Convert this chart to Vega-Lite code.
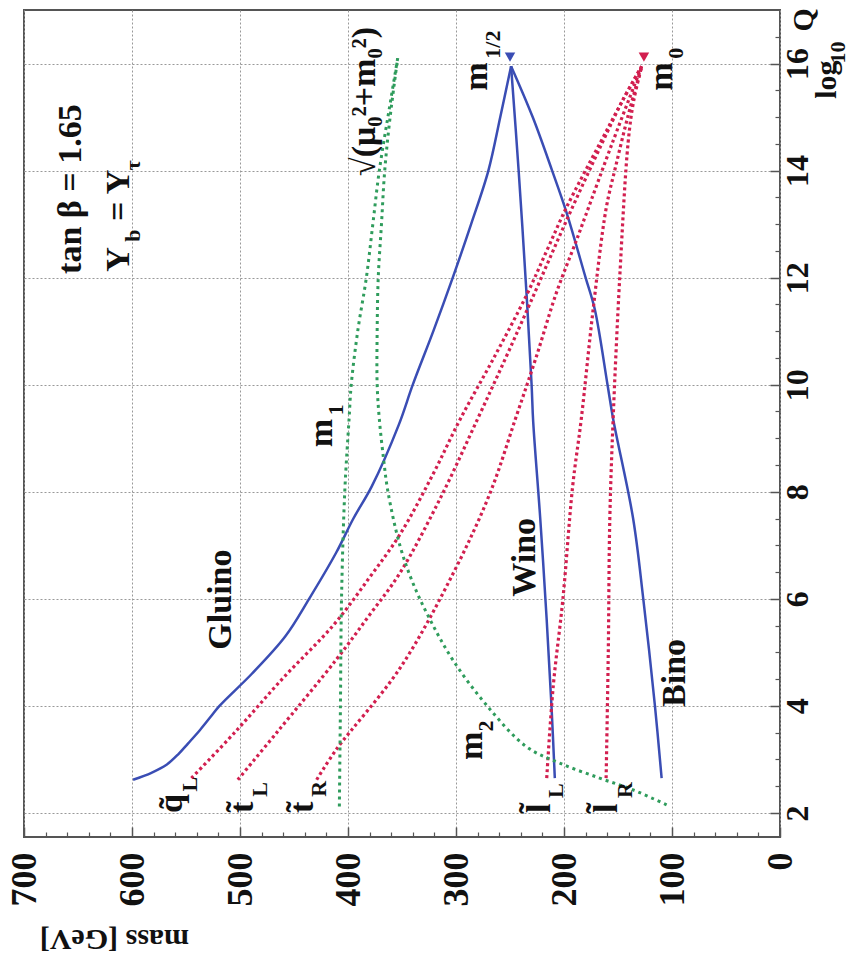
{
  "$schema": "https://vega.github.io/schema/vega-lite/v6.json",
  "width": 756,
  "height": 827,
  "autosize": {"type": "none"},
  "padding": {"left": 24, "top": 10, "right": 71, "bottom": 125},
  "background": "white",
  "config": {"view": {"stroke": "#555", "strokeWidth": 2}, "font": "Liberation Serif"},
  "datasets": {
    "curves": [
      {"s":"Gluino","k":"g","q":2.62,"m":599},{"s":"Gluino","k":"g","q":2.75,"m":582},{"s":"Gluino","k":"g","q":2.9,"m":568},{"s":"Gluino","k":"g","q":3.1,"m":557},{"s":"Gluino","k":"g","q":3.3,"m":548},{"s":"Gluino","k":"g","q":3.55,"m":537},{"s":"Gluino","k":"g","q":3.8,"m":527},{"s":"Gluino","k":"g","q":4.0,"m":519},{"s":"Gluino","k":"g","q":4.6,"m":489},{"s":"Gluino","k":"g","q":5.3,"m":458},{"s":"Gluino","k":"g","q":6.0,"m":436},{"s":"Gluino","k":"g","q":6.86,"m":411},{"s":"Gluino","k":"g","q":7.5,"m":395},{"s":"Gluino","k":"g","q":8.1,"m":378},{"s":"Gluino","k":"g","q":9.25,"m":353},{"s":"Gluino","k":"g","q":10,"m":340},{"s":"Gluino","k":"g","q":11,"m":321},{"s":"Gluino","k":"g","q":12,"m":303},{"s":"Gluino","k":"g","q":13,"m":286},{"s":"Gluino","k":"g","q":14,"m":270},{"s":"Gluino","k":"g","q":15,"m":259},{"s":"Gluino","k":"g","q":15.95,"m":249},
      {"s":"Wino","k":"g","q":2.65,"m":208.5},{"s":"Wino","k":"g","q":4.0,"m":211.6},{"s":"Wino","k":"g","q":5.6,"m":216},{"s":"Wino","k":"g","q":7.5,"m":222},{"s":"Wino","k":"g","q":9.3,"m":228.5},{"s":"Wino","k":"g","q":10,"m":230},{"s":"Wino","k":"g","q":11.7,"m":234.7},{"s":"Wino","k":"g","q":14,"m":242},{"s":"Wino","k":"g","q":15.95,"m":249},
      {"s":"Bino","k":"g","q":2.65,"m":109.6},{"s":"Bino","k":"g","q":4.0,"m":115.8},{"s":"Bino","k":"g","q":6.0,"m":126.6},{"s":"Bino","k":"g","q":7.5,"m":136},{"s":"Bino","k":"g","q":9.36,"m":154.5},{"s":"Bino","k":"g","q":10,"m":159.7},{"s":"Bino","k":"g","q":11.41,"m":171.5},{"s":"Bino","k":"g","q":12,"m":180},{"s":"Bino","k":"g","q":13.22,"m":197.7},{"s":"Bino","k":"g","q":14,"m":211},{"s":"Bino","k":"g","q":15,"m":229},{"s":"Bino","k":"g","q":15.95,"m":249},
      {"s":"qL","k":"s","q":2.65,"m":545},{"s":"qL","k":"s","q":3.5,"m":505},{"s":"qL","k":"s","q":4.5,"m":461},{"s":"qL","k":"s","q":5.52,"m":413},{"s":"qL","k":"s","q":6.4,"m":380},{"s":"qL","k":"s","q":7.2,"m":352},{"s":"qL","k":"s","q":8.3,"m":322},{"s":"qL","k":"s","q":9.36,"m":296},{"s":"qL","k":"s","q":10.5,"m":265},{"s":"qL","k":"s","q":11.66,"m":235},{"s":"qL","k":"s","q":12.5,"m":216},{"s":"qL","k":"s","q":13.3,"m":198},{"s":"qL","k":"s","q":14.5,"m":167},{"s":"qL","k":"s","q":15.3,"m":146},{"s":"qL","k":"s","q":15.95,"m":128},
      {"s":"tL","k":"s","q":2.62,"m":502},{"s":"tL","k":"s","q":3.5,"m":466},{"s":"tL","k":"s","q":4.86,"m":411},{"s":"tL","k":"s","q":5.7,"m":380},{"s":"tL","k":"s","q":6.48,"m":352},{"s":"tL","k":"s","q":7.9,"m":314},{"s":"tL","k":"s","q":9.36,"m":280},{"s":"tL","k":"s","q":10.5,"m":254},{"s":"tL","k":"s","q":11.54,"m":231},{"s":"tL","k":"s","q":13.1,"m":197},{"s":"tL","k":"s","q":14.5,"m":165},{"s":"tL","k":"s","q":15.3,"m":146},{"s":"tL","k":"s","q":15.95,"m":128},
      {"s":"tR","k":"s","q":2.62,"m":429},{"s":"tR","k":"s","q":3.18,"m":411},{"s":"tR","k":"s","q":4.7,"m":352},{"s":"tR","k":"s","q":6.5,"m":302},{"s":"tR","k":"s","q":8,"m":268},{"s":"tR","k":"s","q":9.36,"m":245},{"s":"tR","k":"s","q":10.5,"m":226},{"s":"tR","k":"s","q":11.72,"m":207},{"s":"tR","k":"s","q":12.67,"m":189},{"s":"tR","k":"s","q":13.16,"m":180},{"s":"tR","k":"s","q":14.53,"m":155},{"s":"tR","k":"s","q":15.95,"m":128},
      {"s":"lL","k":"s","q":2.65,"m":216},{"s":"lL","k":"s","q":4.36,"m":210},{"s":"lL","k":"s","q":6.0,"m":201},{"s":"lL","k":"s","q":8.1,"m":192},{"s":"lL","k":"s","q":9.36,"m":184},{"s":"lL","k":"s","q":11.41,"m":173},{"s":"lL","k":"s","q":13.29,"m":161},{"s":"lL","k":"s","q":14.09,"m":152},{"s":"lL","k":"s","q":15,"m":141},{"s":"lL","k":"s","q":15.95,"m":128},
      {"s":"lR","k":"s","q":2.65,"m":161},{"s":"lR","k":"s","q":5.0,"m":159},{"s":"lR","k":"s","q":7.48,"m":157.6},{"s":"lR","k":"s","q":9.36,"m":154.5},{"s":"lR","k":"s","q":12.04,"m":148.3},{"s":"lR","k":"s","q":14.53,"m":140.6},{"s":"lR","k":"s","q":15.3,"m":135.5},{"s":"lR","k":"s","q":15.95,"m":128},
      {"s":"m1","k":"h","q":2.12,"m":408},{"s":"m1","k":"h","q":4,"m":407},{"s":"m1","k":"h","q":6,"m":406},{"s":"m1","k":"h","q":8,"m":403},{"s":"m1","k":"h","q":9.36,"m":399},{"s":"m1","k":"h","q":10,"m":397},{"s":"m1","k":"h","q":11,"m":391},{"s":"m1","k":"h","q":12,"m":383},{"s":"m1","k":"h","q":13,"m":377},{"s":"m1","k":"h","q":14,"m":371},{"s":"m1","k":"h","q":15.37,"m":360},{"s":"m1","k":"h","q":16.1,"m":354},
      {"s":"m2","k":"h","q":2.15,"m":105},{"s":"m2","k":"h","q":2.43,"m":136},{"s":"m2","k":"h","q":2.65,"m":167},{"s":"m2","k":"h","q":2.93,"m":204},{"s":"m2","k":"h","q":3.24,"m":235},{"s":"m2","k":"h","q":4.02,"m":272},{"s":"m2","k":"h","q":4.86,"m":303},{"s":"m2","k":"h","q":5.61,"m":324},{"s":"m2","k":"h","q":6.3,"m":340},{"s":"m2","k":"h","q":7.0,"m":352},{"s":"m2","k":"h","q":8.0,"m":363},{"s":"m2","k":"h","q":8.6,"m":367},{"s":"m2","k":"h","q":9.36,"m":371},{"s":"m2","k":"h","q":10,"m":373},{"s":"m2","k":"h","q":11,"m":373},{"s":"m2","k":"h","q":12,"m":372},{"s":"m2","k":"h","q":13,"m":369},{"s":"m2","k":"h","q":14,"m":366},{"s":"m2","k":"h","q":15,"m":361},{"s":"m2","k":"h","q":16.1,"m":354}
    ],
    "markers": [
      {"k":"g","m":250,"q":16.12},
      {"k":"s","m":126,"q":16.12}
    ],
    "labels": [
      {"t":"tan β = 1.65","m":646.9,"q":12.07},
      {"t":"Y","m":602.4,"q":12.11},
      {"t":"= Y","m":602.4,"q":13.06},
      {"t":"√(μ₀²+m₀²)","m":375.3,"q":13.9},
      {"t":"m","m":271.5,"q":15.49},
      {"t":"m","m":100.1,"q":15.49},
      {"t":"m","m":415.2,"q":8.83},
      {"t":"Gluino","m":507.9,"q":5.05},
      {"t":"Wino","m":227.1,"q":6.04},
      {"t":"Bino","m":88.0,"q":3.98},
      {"t":"m","m":276.2,"q":2.99},
      {"t":"q̃","m":553.3,"q":2.0},
      {"t":"t̃","m":488.4,"q":2.0},
      {"t":"t̃","m":432.8,"q":2.0},
      {"t":"l̃","m":213.2,"q":2.0},
      {"t":"l̃","m":151.1,"q":2.0}
    ],
    "subs": [
      {"t":"b","m":592.2,"q":12.67},
      {"t":"τ","m":592.2,"q":14.0},
      {"t":"1/2","m":259.5,"q":16.09},
      {"t":"0","m":89.9,"q":16.09},
      {"t":"1","m":405,"q":9.43},
      {"t":"2","m":266,"q":3.52},
      {"t":"L","m":539.4,"q":2.4},
      {"t":"L","m":475.4,"q":2.3},
      {"t":"R","m":420.8,"q":2.3},
      {"t":"L","m":201.1,"q":2.28},
      {"t":"R","m":137.2,"q":2.28},
      {"t":"10","m":-60.2,"q":16.0}
    ],
    "mids": [
      {"t":"Q","m":-30.6,"q":16.6},
      {"t":"log","m":-51.9,"q":15.34}
    ],
    "titles": [
      {"t":"mass [GeV]","m":616.3,"q":-0.36}
    ]
  },
  "layer": [
    {
      "layer": [
        {
          "data": {"name": "curves"},
          "transform": [{"filter": "datum.k === 'g'"}],
          "mark": {"type": "line", "color": "#3a4db4", "strokeWidth": 2.5, "interpolate": "catmull-rom"},
          "encoding": {
            "x": {"field": "m", "type": "quantitative",
              "scale": {"domain": [0, 700], "reverse": true, "nice": false, "zero": false},
              "axis": {"title": null, "values": [0,100,200,300,400,500,600,700], "orient": "bottom",
                "grid": true, "gridDash": [2,2], "gridColor": "#999", "gridWidth": 1,
                "domain": false, "tickSize": -10, "tickColor": "#555", "tickWidth": 1.5,
                "labelAngle": 270, "labelAlign": "right", "labelBaseline": "middle",
                "labelFont": "Liberation Serif", "labelFontWeight": "bold", "labelFontSize": 36, "labelColor": "#111",
                "labelPadding": 25, "labelOverlap": false, "labelFlush": false, "labelBound": false}},
            "y": {"field": "q", "type": "quantitative",
              "scale": {"domain": [1.55, 17], "nice": false, "zero": false},
              "axis": {"title": null, "values": [2,4,6,8,10,12,14,16], "orient": "right",
                "grid": true, "gridDash": [2,2], "gridColor": "#999", "gridWidth": 1,
                "domain": false, "tickSize": -10, "tickColor": "#555", "tickWidth": 1.5,
                "labelAngle": 270, "labelAlign": "center", "labelBaseline": "top",
                "labelFont": "Liberation Serif", "labelFontWeight": "bold", "labelFontSize": 32, "labelColor": "#111",
                "labelPadding": 12, "labelOverlap": false, "labelFlush": false, "labelBound": false}},
            "detail": {"field": "s"},
            "order": {"field": "q"}
          }
        },
        {
          "data": {"name": "curves"},
          "transform": [{"filter": "datum.k === 's'"}],
          "mark": {"type": "line", "color": "#d21f4f", "strokeWidth": 3.2, "strokeDash": [3, 3], "interpolate": "catmull-rom"},
          "encoding": {
            "x": {"field": "m", "type": "quantitative", "title": null},
            "y": {"field": "q", "type": "quantitative", "title": null},
            "detail": {"field": "s"},
            "order": {"field": "q"}
          }
        },
        {
          "data": {"name": "curves"},
          "transform": [{"filter": "datum.k === 'h'"}],
          "mark": {"type": "line", "color": "#2f9c5c", "strokeWidth": 3, "strokeDash": [3, 4], "interpolate": "catmull-rom"},
          "encoding": {
            "x": {"field": "m", "type": "quantitative", "title": null},
            "y": {"field": "q", "type": "quantitative", "title": null},
            "detail": {"field": "s"},
            "order": {"field": "q"}
          }
        },
        {
          "mark": {"type": "rule", "color": "#444", "strokeWidth": 9},
          "encoding": {"x": {"datum": 700}}
        },
        {
          "mark": {"type": "rule", "color": "#d9c51c", "strokeWidth": 6},
          "encoding": {"x": {"datum": 700}}
        },
        {
          "mark": {"type": "rule", "color": "#444", "strokeWidth": 9},
          "encoding": {"y": {"datum": 17}}
        },
        {
          "mark": {"type": "rule", "color": "#d9c51c", "strokeWidth": 6},
          "encoding": {"y": {"datum": 17}}
        },
        {
          "data": {"name": "labels"},
          "mark": {"type": "text", "angle": 270, "align": "left", "baseline": "alphabetic",
            "font": "Liberation Serif", "fontWeight": "bold", "fontSize": 34, "color": "#111"},
          "encoding": {
            "x": {"field": "m", "type": "quantitative", "title": null},
            "y": {"field": "q", "type": "quantitative", "title": null},
            "text": {"field": "t"}
          }
        },
        {
          "data": {"name": "subs"},
          "mark": {"type": "text", "angle": 270, "align": "left", "baseline": "alphabetic",
            "font": "Liberation Serif", "fontWeight": "bold", "fontSize": 22, "color": "#111"},
          "encoding": {
            "x": {"field": "m", "type": "quantitative", "title": null},
            "y": {"field": "q", "type": "quantitative", "title": null},
            "text": {"field": "t"}
          }
        },
        {
          "data": {"name": "mids"},
          "mark": {"type": "text", "angle": 270, "align": "left", "baseline": "alphabetic",
            "font": "Liberation Serif", "fontWeight": "bold", "fontSize": 30, "color": "#111"},
          "encoding": {
            "x": {"field": "m", "type": "quantitative", "title": null},
            "y": {"field": "q", "type": "quantitative", "title": null},
            "text": {"field": "t"}
          }
        },
        {
          "data": {"name": "titles"},
          "mark": {"type": "text", "angle": 180, "align": "center", "baseline": "middle",
            "font": "Liberation Serif", "fontWeight": "bold", "fontSize": 30, "color": "#111"},
          "encoding": {
            "x": {"field": "m", "type": "quantitative", "title": null},
            "y": {"field": "q", "type": "quantitative", "title": null},
            "text": {"field": "t"}
          }
        }
      ]
    },
    {
      "data": {"name": "markers"},
      "mark": {"type": "point", "shape": "triangle-down", "filled": true, "size": 110, "opacity": 1},
      "encoding": {
        "x": {"field": "m", "type": "quantitative",
          "scale": {"domain": [0, 700], "reverse": true, "nice": false, "zero": false},
          "axis": {"title": null, "orient": "bottom", "values": [20,40,60,80,120,140,160,180,220,240,260,280,320,340,360,380,420,440,460,480,520,540,560,580,620,640,660,680],
            "labels": false, "grid": false, "domain": false, "tickSize": -5, "tickColor": "#555", "tickWidth": 1.2}},
        "y": {"field": "q", "type": "quantitative",
          "scale": {"domain": [1.55, 17], "nice": false, "zero": false},
          "axis": {"title": null, "orient": "right", "values": [2.5,3,3.5,4.5,5,5.5,6.5,7,7.5,8.5,9,9.5,10.5,11,11.5,12.5,13,13.5,14.5,15,15.5,16.5],
            "labels": false, "grid": false, "domain": false, "tickSize": -5, "tickColor": "#555", "tickWidth": 1.2}},
        "color": {"field": "k", "type": "nominal", "scale": {"domain": ["g", "s"], "range": ["#3a4db4", "#d21f4f"]}, "legend": null}
      }
    }
  ],
  "resolve": {"scale": {"x": "independent", "y": "independent"}, "axis": {"x": "independent", "y": "independent"}}
}
